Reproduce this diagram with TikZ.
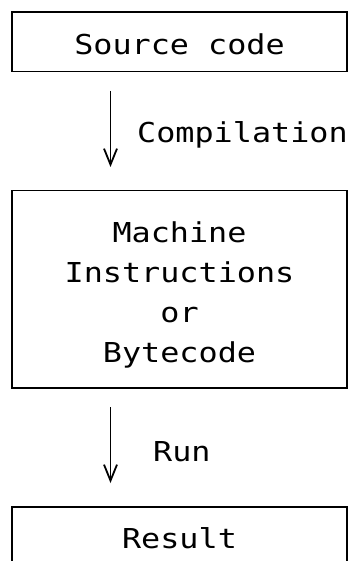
\documentclass[tikz,border=0pt]{standalone}
\usepackage{fontspec}
\newfontfamily\monof[FakeStretch=1.16]{DejaVu Sans Mono}
\usetikzlibrary{arrows.meta}
\begin{document}
\begin{tikzpicture}[x=1pt,y=-1pt,
  txt/.style={font=\monof\fontsize{27.4}{40}\selectfont},
  box/.style={txt, draw, line width=1.5pt, outer sep=0pt, inner sep=0pt,
    minimum width=335pt, align=center},
  flow/.style={line width=1.8pt, -{Straight Barb[length=16pt,width=13pt,line width=1.8pt]}},
  lbl/.style={txt, anchor=base west, inner sep=0pt}]
\useasboundingbox (0,0) rectangle (348,561);
\clip (0,0) rectangle (348,561);
\node[box, minimum height=59.5pt, text height=26.5pt, text depth=0pt] (src) at (179.5,41.75) {Source code};
\node[box, minimum height=197.5pt, text height=145.5pt, text depth=0pt] (mid) at (179.5,289.25)
  {Machine\\Instructions\\or\\Bytecode};
\node[box, minimum height=62pt, text height=20pt, text depth=0pt] (res) at (179.5,538) {Result};
\draw[flow, shorten <=19.5pt, shorten >=23.5pt] ([xshift=-69pt]src.south) -- ([xshift=-69pt]mid.north);
\draw[flow, shorten <=19pt, shorten >=24pt] ([xshift=-69pt]mid.south) -- ([xshift=-69pt]res.north);
\node[lbl] (comp) at (137,143) {Compilation};
\node[lbl] (run) at (153,461) {Run};
\end{tikzpicture}
\end{document}
